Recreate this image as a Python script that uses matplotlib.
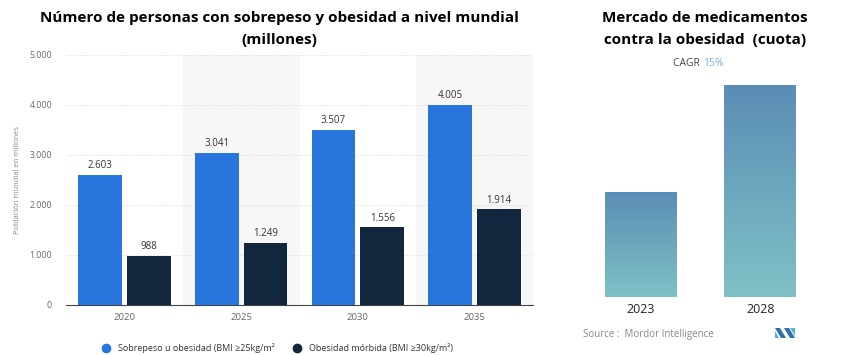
import matplotlib
matplotlib.use("Agg")
import matplotlib.pyplot as plt
import numpy as np
from matplotlib.lines import Line2D
from matplotlib.colors import LinearSegmentedColormap
from matplotlib.patches import Polygon

# ---- data ----
years = ["2020", "2025", "2030", "2035"]
overweight = [2603, 3041, 3507, 4005]
morbid = [988, 1249, 1556, 1914]
value_labels_ow = ["2.603", "3.041", "3.507", "4.005"]
value_labels_mo = ["988", "1.249", "1.556", "1.914"]
yticks = [0, 1000, 2000, 3000, 4000, 5000]
ytick_labels = ["0", "1.000", "2.000", "3.000", "4.000", "5.000"]
series_names = ["Sobrepeso u obesidad (BMI ≥25kg/m²", "Obesidad mórbida (BMI ≥30kg/m²)"]

market_years = ["2023", "2028"]
market_share = [1.0, 2.03]

BLUE = "#2876dd"
DARK = "#12263d"
GRAY = "#666666"

plt.rcParams['font.family'] = ['Open Sans', 'DejaVu Sans']

fig = plt.figure(figsize=(8.52, 3.55), dpi=100)

# ---- left chart ----
ax = fig.add_axes([66/852, 1-305/355, (533-66)/852, (305-55)/355])
x = np.arange(len(years))
bw = 0.376
off = 0.209
for i in (1, 3):
    ax.axvspan(i-0.5, i+0.5, color="#f7f7f7", zorder=0, lw=0)
b1 = ax.bar(x-off, overweight, bw, color=BLUE, zorder=3)
b2 = ax.bar(x+off, morbid, bw, color=DARK, zorder=3)
for rect, lab in zip(b1, value_labels_ow):
    ax.text(rect.get_x()+rect.get_width()/2, rect.get_height()+70, lab,
            ha="center", va="bottom", fontsize=7, color="#333333")
for rect, lab in zip(b2, value_labels_mo):
    ax.text(rect.get_x()+rect.get_width()/2, rect.get_height()+70, lab,
            ha="center", va="bottom", fontsize=7, color="#333333")
ax.set_xlim(-0.5, 3.5)
ax.set_ylim(0, 5000)
ax.set_yticks(yticks)
ax.set_yticklabels(ytick_labels, fontsize=6.3, color=GRAY)
ax.set_xticks(x)
ax.set_xticklabels(years, fontsize=6.8, color=GRAY)
ax.tick_params(axis="both", length=0, pad=10)
ax.tick_params(axis="x", pad=6)
ax.grid(axis="y", color="#dddddd", linestyle=(0, (2, 2)), linewidth=0.6, zorder=1)
ax.set_axisbelow(True)
for s in ["top", "right", "left"]:
    ax.spines[s].set_visible(False)
ax.spines["bottom"].set_color("#444444")
ax.spines["bottom"].set_linewidth(0.8)
ax.set_ylabel("Población mundial en millones", fontsize=5.5, color="#888888", labelpad=6)
ax.set_facecolor("none")

fig.text(279/852, 1-18/355, "Número de personas con sobrepeso y obesidad a nivel mundial",
         ha="center", va="center", fontsize=11, fontweight="bold", color="black")
fig.text(279/852, 1-40/355, "(millones)",
         ha="center", va="center", fontsize=11, fontweight="bold", color="black")

handles = [Line2D([], [], marker="o", linestyle="", markersize=6, color=BLUE),
           Line2D([], [], marker="o", linestyle="", markersize=6, color=DARK)]
fig.legend(handles, series_names, loc="center", bbox_to_anchor=(275/852, 1-348/355),
           ncol=2, frameon=False, fontsize=6.5, handletextpad=0.3, columnspacing=1.5,
           labelcolor="#333333")

# ---- right chart ----
ax2 = fig.add_axes([581/852, 1-297/355, 239/852, 220/355])
cmap = LinearSegmentedColormap.from_list("g", ["#80c1c6", "#5a8db5"])
grad = np.linspace(0, 1, 256).reshape(-1, 1)
w2 = 0.6
for i, v in enumerate(market_share):
    ax2.imshow(grad, extent=(i-w2/2, i+w2/2, 0, v), origin="lower", cmap=cmap,
               aspect="auto", zorder=2)
ax2.set_xlim(-0.5, 1.5)
ax2.set_ylim(0, 2.115)
ax2.set_xticks([0, 1])
ax2.set_xticklabels(market_years, fontsize=9, color="#222222")
ax2.tick_params(axis="x", length=0, pad=4)
ax2.set_yticks([])
for s in ax2.spines.values():
    s.set_visible(False)

fig.text(705/852, 1-18/355, "Mercado de medicamentos", ha="center", va="center",
         fontsize=11, fontweight="bold", color="black")
fig.text(705/852, 1-40/355, "contra la obesidad  (cuota)", ha="center", va="center",
         fontsize=11, fontweight="bold", color="black")
fig.text(703/852, 1-64/355, "CAGR ", ha="right", va="center", fontsize=7.5, color="#444444")
fig.text(703/852, 1-64/355, "15%", ha="left", va="center", fontsize=7.5, color="#7fb0d8")
fig.text(583/852, 1-335/355, "Source :  Mordor Intelligence", ha="left", va="center",
         fontsize=7, color="#888888")

# logo
def fpoly(pts, color):
    p = Polygon([(px/852, 1-py/355) for px, py in pts], closed=True,
                transform=fig.transFigure, color=color, lw=0)
    fig.add_artist(p)
fpoly([(775, 328), (780, 328), (786, 338), (781, 338)], "#2e6fb0")
fpoly([(775, 331), (779, 338), (775, 338)], "#55b5d0")
fpoly([(784, 328), (789, 328), (795, 338), (790, 338)], "#2e6fb0")
fpoly([(790, 328), (795, 328), (795, 336)], "#55b5d0")

fig.savefig("out.png", dpi=100)
